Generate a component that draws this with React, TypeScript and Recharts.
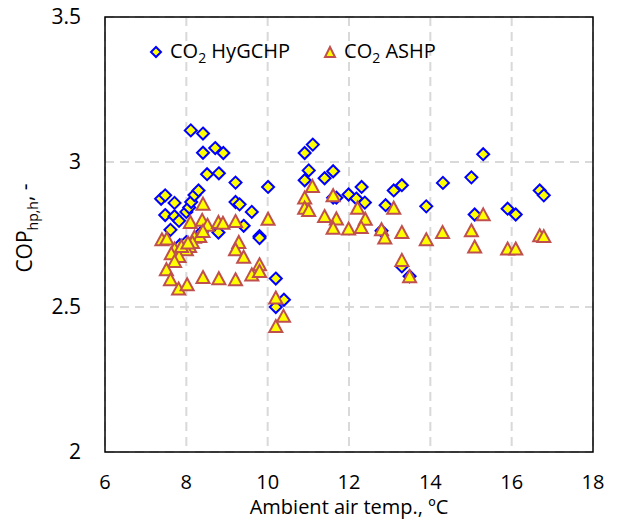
import React from 'react';
import {
    ScatterChart,
    Scatter,
    XAxis,
    YAxis,
    CartesianGrid,
    ReferenceArea,
    Label
} from 'recharts';

// CO2 HyGCHP: ambient temp (ºC) and COP
const hygchpTemp = [
    7.38, 7.48, 7.71, 7.48, 7.71, 7.82, 7.61, 7.84, 8.0, 8.0, 8.07, 8.12, 8.2, 8.3,
    8.11, 8.41, 8.41, 8.71, 8.91, 8.51, 8.8, 9.21, 10.01, 9.21, 9.31, 9.61, 9.41,
    8.38, 8.79, 9.8, 9.8, 10.2, 10.4, 10.2, 10.91, 11.11, 11.01, 10.91, 11.4, 11.61,
    11.61, 11.69, 11.99, 12.31, 12.18, 12.39, 12.9, 12.8, 13.1, 13.3, 14.31, 15.01,
    15.3, 13.9, 15.09, 15.9, 16.1, 16.69, 16.79, 13.3, 13.49
];
const hygchpCop = [
    2.873, 2.885, 2.859, 2.817, 2.813, 2.797, 2.766, 2.713, 2.724, 2.828, 2.843, 2.862, 2.886, 2.902,
    3.109, 3.098, 3.032, 3.048, 3.031, 2.958, 2.961, 2.929, 2.914, 2.862, 2.854, 2.828, 2.78,
    2.759, 2.757, 2.744, 2.738, 2.598, 2.525, 2.5, 3.031, 3.06, 2.971, 2.937, 2.944, 2.968,
    2.877, 2.877, 2.888, 2.914, 2.874, 2.86, 2.851, 2.763, 2.902, 2.92, 2.928, 2.947,
    3.027, 2.847, 2.819, 2.839, 2.819, 2.902, 2.885, 2.64, 2.606
];

// CO2 ASHP
const ashpTemp = [
    8.41, 10.01, 8.1, 8.39, 8.52, 8.79, 8.9, 9.21, 7.4, 7.52, 8.2, 8.33, 8.15, 8.08,
    8.0, 7.71, 7.63, 7.82, 7.71, 9.29, 9.21, 9.41, 7.51, 7.61, 7.81, 8.02, 8.41, 8.8,
    9.21, 9.61, 9.8, 9.8, 10.2, 10.39, 10.2, 11.1, 10.91, 10.91, 11.01, 11.61, 11.4,
    11.69, 11.61, 11.99, 12.21, 12.4, 12.3, 12.8, 12.88, 13.1, 13.3, 13.9, 14.3, 15.01,
    15.3, 15.09, 15.9, 16.1, 16.69, 16.79, 13.3, 13.49, 8.41, 7.88, 8.04
];
const ashpCop = [
    2.853, 2.801, 2.79, 2.797, 2.78, 2.79, 2.787, 2.793, 2.73, 2.733, 2.739, 2.741, 2.721, 2.707,
    2.696, 2.698, 2.682, 2.672, 2.655, 2.721, 2.696, 2.67, 2.627, 2.592, 2.56, 2.575, 2.6, 2.596,
    2.592, 2.609, 2.644, 2.621, 2.529, 2.466, 2.431, 2.914, 2.874, 2.839, 2.831, 2.882, 2.81,
    2.802, 2.77, 2.767, 2.839, 2.801, 2.772, 2.765, 2.736, 2.839, 2.755, 2.73, 2.755, 2.761,
    2.816, 2.705, 2.698, 2.698, 2.744, 2.741, 2.659, 2.603, 2.759, 2.707, 2.719
];

const xTicks = [6, 8, 10, 12, 14, 16, 18];
const yTicks = [2, 2.5, 3, 3.5];

const hygchp = hygchpTemp.map((t, i) => ({ temp: t, cop: hygchpCop[i] }));
const ashp = ashpTemp.map((t, i) => ({ temp: t, cop: ashpCop[i] }));

const FONT = '"Open Sans", Lato, sans-serif';

const Diamond = (props: any) => {
    const { cx, cy } = props;
    if (cx == null || cy == null) return null;
    const r = 6;
    return (
        <polygon
            points={`${cx},${cy - r} ${cx + r},${cy} ${cx},${cy + r} ${cx - r},${cy}`}
            fill="#FFFF00"
            stroke="#0000FF"
            strokeWidth={2}
        />
    );
};

const Triangle = (props: any) => {
    const { cx, cy } = props;
    if (cx == null || cy == null) return null;
    return (
        <polygon
            points={`${cx},${cy - 7} ${cx + 6.5},${cy + 5} ${cx - 6.5},${cy + 5}`}
            fill="#FFFF00"
            stroke="#C0504D"
            strokeWidth={2}
        />
    );
};

// legend drawn as an overlay so it doesn't shrink the plot area
const LegendBox = () => (
    <div
        style={{
            position: 'absolute', top: 37, left: 148,
            display: 'flex', alignItems: 'center',
            fontFamily: FONT, fontSize: 20, color: '#000'
        }}
    >
        <svg width={16} height={16}>
            <polygon points="8,3 13,8 8,13 3,8" fill="#FFFF00" stroke="#0000FF" strokeWidth={2} />
        </svg>
        <span style={{ marginLeft: 6 }}>CO<sub style={{ fontSize: 14 }}>2</sub> HyGCHP</span>
        <svg width={16} height={16} style={{ marginLeft: 32 }}>
            <polygon points="8,3 13,13 3,13" fill="#FFFF00" stroke="#C0504D" strokeWidth={2} />
        </svg>
        <span style={{ marginLeft: 6 }}>CO<sub style={{ fontSize: 14 }}>2</sub> ASHP</span>
    </div>
);

const YLabel = () => (
    <text
        x={32}
        y={228}
        transform="rotate(-90, 32, 228)"
        textAnchor="middle"
        fontFamily={FONT}
        fontSize={21}
        fill="#000"
    >
        COP
        <tspan dy={6} fontSize={14}>hp,h</tspan>
        <tspan dy={-6}>, -</tspan>
    </text>
);

const App = () => {
    return (
        <div style={{ position: 'absolute', left: 0, top: 0, width: 617, height: 520, background: '#fff' }}>
            <ScatterChart
                width={617}
                height={520}
                margin={{ top: 17, right: 24, left: 0, bottom: 0 }}
            >
                <CartesianGrid stroke="#d9d9d9" strokeWidth={2} strokeDasharray="9 6" />
                <XAxis
                    type="number"
                    dataKey="temp"
                    domain={[6, 18]}
                    ticks={xTicks}
                    height={68}
                    axisLine={false}
                    tickLine={false}
                    tickSize={0}
                    tickMargin={23}
                    tick={{ fontSize: 20, fill: '#000', fontFamily: FONT }}
                >
                    <Label
                        value="Ambient air temp., ºC"
                        position="insideBottom"
                        offset={6}
                        style={{ fontSize: 20, fill: '#000', fontFamily: FONT }}
                    />
                </XAxis>
                <YAxis
                    type="number"
                    dataKey="cop"
                    domain={[2, 3.5]}
                    ticks={yTicks}
                    width={105}
                    axisLine={false}
                    tickLine={false}
                    tickSize={0}
                    tickMargin={24}
                    tick={{ fontSize: 21, fill: '#000', fontFamily: FONT }}
                >
                    <Label content={<YLabel />} />
                </YAxis>
                <ReferenceArea x1={6} x2={18} y1={2} y2={3.5} fill="none" stroke="#000" strokeWidth={1.5} fillOpacity={0} />
                <Scatter name="CO2 HyGCHP" data={hygchp} shape={<Diamond />} isAnimationActive={false} />
                <Scatter name="CO2 ASHP" data={ashp} shape={<Triangle />} isAnimationActive={false} />
            </ScatterChart>
            <LegendBox />
        </div>
    );
};

export default App;
